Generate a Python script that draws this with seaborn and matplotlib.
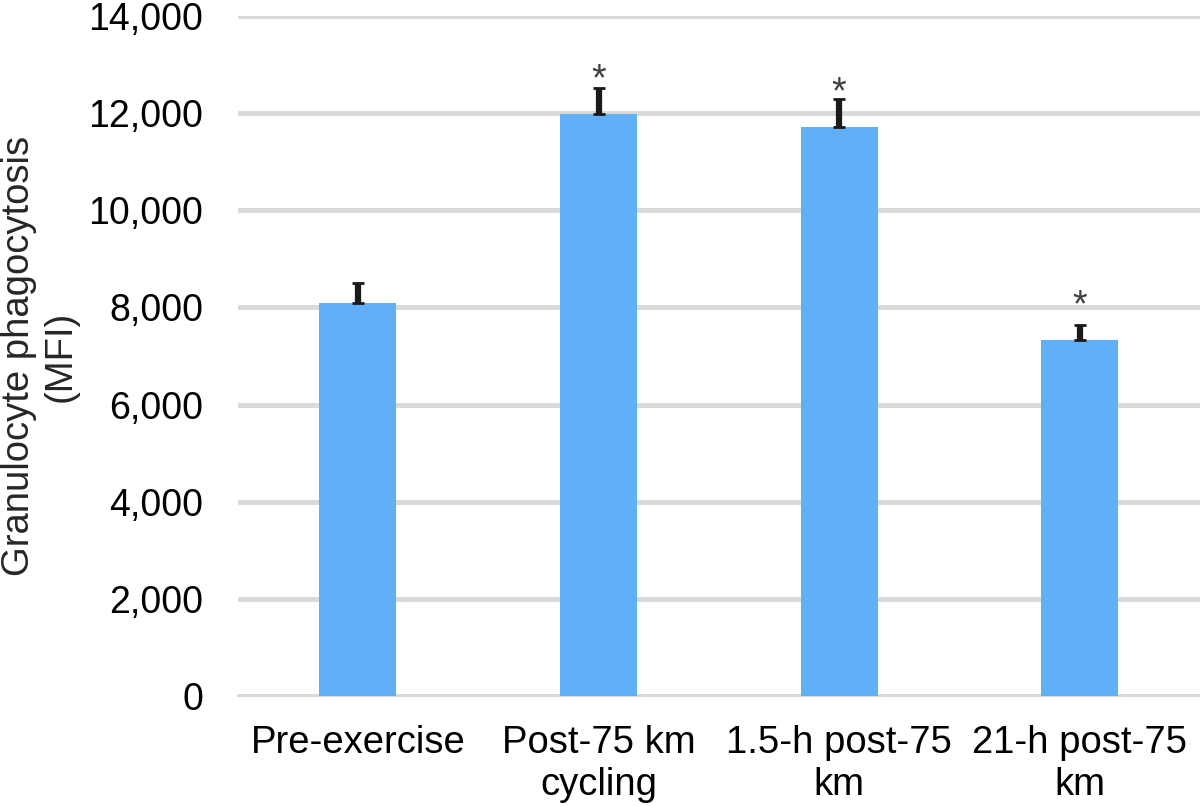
import matplotlib
matplotlib.use("Agg")
import matplotlib.pyplot as plt
import seaborn as sns
import pandas as pd
from matplotlib.ticker import FuncFormatter, MultipleLocator

categories = ["Pre-exercise", "Post-75 km\ncycling", "1.5-h post-75\nkm", "21-h post-75\nkm"]
means = [8090, 11980, 11715, 7330]
errors = [415, 540, 575, 310]
# height of the significance star over each bar (None = not significant)
star_y = [None, 12765, 12500, 8110]

sns.set_theme(style="white")
plt.rcParams["font.family"] = ["Liberation Sans", "DejaVu Sans"]

df = pd.DataFrame({"time": categories, "mfi": means})

fig = plt.figure(figsize=(12, 8.06), dpi=100)
ax = fig.add_axes([0.198, 0.1365, 0.802, 0.8435])

sns.barplot(data=df, x="time", y="mfi", color="#61AFF6", width=0.32,
            saturation=1, errorbar=None, ax=ax, zorder=3, linewidth=0)
ax.errorbar(range(len(means)), means, yerr=[[0] * len(errors), errors],
            fmt="none", ecolor="#1a1a1a", elinewidth=4.5, capsize=4,
            capthick=2, zorder=4)

for i, sy in enumerate(star_y):
    if sy is not None:
        ax.text(i, sy, "*", ha="center", va="center_baseline",
                fontsize=27, color="#404040", zorder=5)

ax.set_ylim(0, 14000)
ax.set_xlim(-0.5, 3.5)
ax.yaxis.set_major_locator(MultipleLocator(2000))
ax.yaxis.set_major_formatter(FuncFormatter(lambda v, p: f"{v:,.0f}"))
ax.yaxis.grid(True, color="#d9d9d9", linewidth=3.5, zorder=0)
ax.set_axisbelow(True)

for side in ["left", "right", "top"]:
    ax.spines[side].set_visible(False)
ax.spines["bottom"].set_color("#d9d9d9")
ax.spines["bottom"].set_linewidth(1.5)

ax.tick_params(axis="y", labelsize=27, colors="black", length=0, pad=25)
ax.tick_params(axis="x", labelsize=27.5, colors="black", length=0, pad=21)
ax.set_xlabel("")
ax.set_ylabel("Granulocyte phagocytosis\n(MFI)", fontsize=27.5)
ax.yaxis.set_label_coords(-0.165, 0.5)

plt.savefig("out.png", dpi=100)
plt.close()
